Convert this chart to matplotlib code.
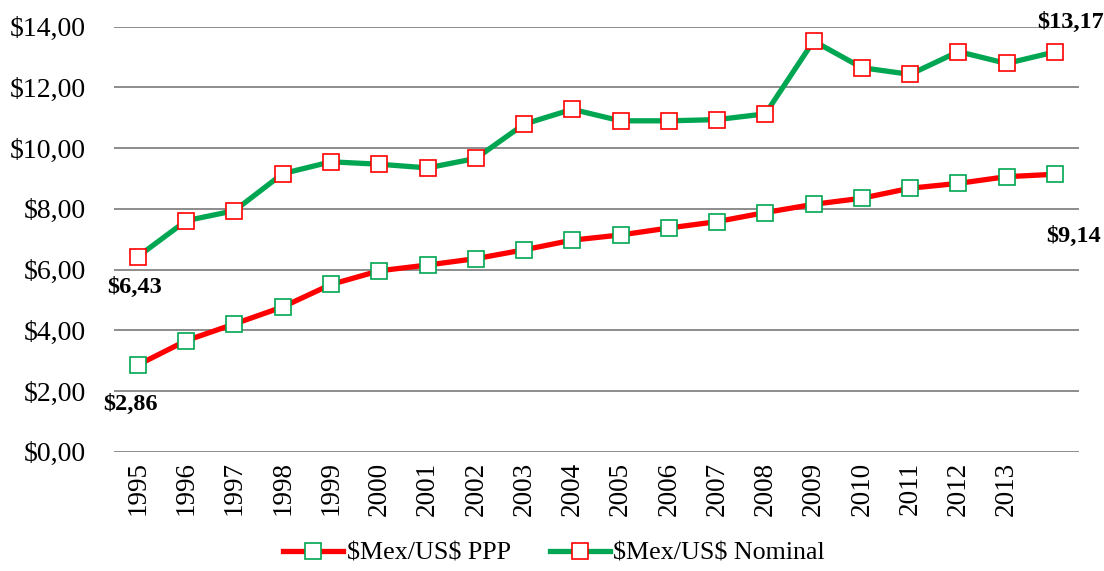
import matplotlib
matplotlib.use("Agg")
import matplotlib.pyplot as plt
from matplotlib.ticker import FuncFormatter, MultipleLocator

years = list(range(1995, 2015))
tick_labels = [str(y) for y in range(1995, 2014)] + [""]
ppp = [2.86, 3.66, 4.21, 4.77, 5.51, 5.96, 6.15, 6.36, 6.65, 6.97,
       7.14, 7.37, 7.58, 7.88, 8.15, 8.35, 8.68, 8.84, 9.06, 9.14]
nominal = [6.43, 7.61, 7.94, 9.16, 9.55, 9.47, 9.35, 9.66, 10.79, 11.28,
           10.90, 10.90, 10.94, 11.13, 13.53, 12.65, 12.43, 13.18, 12.79, 13.17]
series_names = ["$Mex/US$ PPP", "$Mex/US$ Nominal"]

plt.rcParams['font.family'] = ['Liberation Serif', 'DejaVu Serif']
plt.rcParams['mathtext.default'] = 'regular'

RED = "#FF0000"
GREEN = "#00A651"

fig = plt.figure(figsize=(11.04, 5.71), dpi=100)
ax = fig.add_axes([0.1031, 0.2089, 0.8743, 0.7443])

x = list(range(len(years)))
ax.plot(x, ppp, color=RED, lw=3.8, marker='s', ms=11, mfc='white',
        mec=GREEN, mew=1.2, label=series_names[0].replace('$', r'\$'), zorder=3)
ax.plot(x, nominal, color=GREEN, lw=3.8, marker='s', ms=11, mfc='white',
        mec=RED, mew=1.2, label=series_names[1].replace('$', r'\$'), zorder=3)

ax.set_xlim(-0.5, len(years) - 0.5)
ax.set_ylim(0, 14)
ax.yaxis.set_major_locator(MultipleLocator(2))
ax.yaxis.set_major_formatter(FuncFormatter(lambda v, p: ("$%.2f" % v).replace('.', ',')))
ax.set_xticks(x)
ax.set_xticklabels(tick_labels, rotation=90)
ax.tick_params(axis='both', length=0)
ax.tick_params(axis='y', labelsize=20, pad=20)
ax.tick_params(axis='x', labelsize=19.5, pad=7)
for s in ax.spines.values():
    s.set_visible(False)
ax.grid(axis='y', color='#8c8c8c', lw=1.4)
ax.set_axisbelow(True)

def fmt(v):
    return ("\\$%.2f" % v).replace('.', ',')

lab_kw = dict(textcoords='offset pixels', fontsize=17.5, fontweight='bold',
              ha='center', va='center')
ax.annotate(fmt(nominal[0]), (x[0], nominal[0]), xytext=(-3, -31), **lab_kw)
ax.annotate(fmt(ppp[0]), (x[0], ppp[0]), xytext=(-8, -40), **lab_kw)
ax.annotate(fmt(nominal[-1]), (x[-1], nominal[-1]), xytext=(16, 29), **lab_kw)
ax.annotate(fmt(ppp[-1]), (x[-1], ppp[-1]), xytext=(19, -62), **lab_kw)

fig.legend(loc='lower center', bbox_to_anchor=(0.502, -0.03), ncol=2, frameon=False,
           fontsize=18.7, handlelength=2.3, columnspacing=1.5, handletextpad=0.15)

fig.savefig("out.png", dpi=100)
